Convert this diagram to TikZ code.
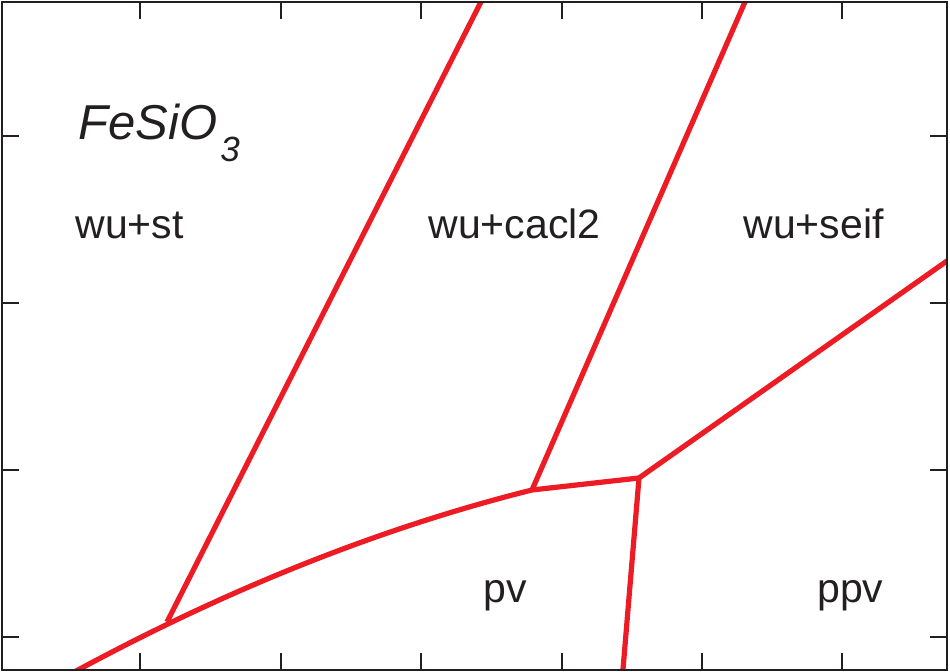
\documentclass[tikz,border=0pt]{standalone}
\usepackage{fontspec}
\setmainfont{Liberation Sans}
\definecolor{phred}{HTML}{ED1C24}
\definecolor{ink}{HTML}{231F20}
\begin{document}
\begin{tikzpicture}[x=0.5pt,y=-0.5pt,
  boundary/.style={draw=phred,line width=2.6pt,line join=round},
  frameline/.style={draw=ink,line width=1pt},
  tickmark/.style={draw=ink,line width=1pt},
  phase/.style={anchor=base west,inner sep=0pt,text=ink,font=\fontsize{20.5}{24}\selectfont},
  titletext/.style={anchor=base west,inner sep=0pt,text=ink,font=\fontsize{24.5}{28}\selectfont\itshape}]
\useasboundingbox (0,0) rectangle (950,672);
% coordinates
\coordinate (T1) at (167,622);
\coordinate (T2) at (532,490);
\coordinate (T3) at (639,478);
\coordinate (A1) at (487,-10);
\coordinate (A2) at (750.2,-10);
\coordinate (A3) at (960,251.8);
\coordinate (A4) at (621.7,685);
\coordinate (B0) at (60,679.7);
\coordinate (B1) at (78,670);
% phase boundaries
\begin{scope}
\clip (1.5,2.5) rectangle (946.5,670);
\draw[boundary] (B0) -- (B1) .. controls (229,588.5) and (381,527.75) .. (T2);
\draw[boundary] (T1) -- (A1);
\draw[boundary] (T2) -- (A2);
\draw[boundary] (T2) -- (T3);
\draw[boundary] (T3) -- (A3);
\draw[boundary] (T3) -- (A4);
\end{scope}
% frame and ticks
\draw[frameline] (1.5,2.5) rectangle (946.5,670);
\foreach \k in {1,...,6}{
  \draw[tickmark] ({140.4*\k},670) -- ({140.4*\k},653);
  \draw[tickmark] ({140.4*\k},2.5) -- ({140.4*\k},19.5);
}
\foreach \yy in {136,303,470,637}{
  \draw[tickmark] (1.5,\yy) -- (18.5,\yy);
  \draw[tickmark] (946.5,\yy) -- (929.5,\yy);
}
% labels
\node[titletext] (title) at (78,140) {FeSiO\kern1.5pt\raisebox{-11pt}{\fontsize{17.5}{20}\selectfont 3}};
\node[phase] (wust) at (75,239) {wu+st};
\node[phase] (wucacl) at (428,239) {wu+cacl2};
\node[phase] (wuseif) at (743,239) {wu+seif};
\node[phase] (pv) at (483,603) {pv};
\node[phase] (ppv) at (817,603) {ppv};
\end{tikzpicture}
\end{document}
